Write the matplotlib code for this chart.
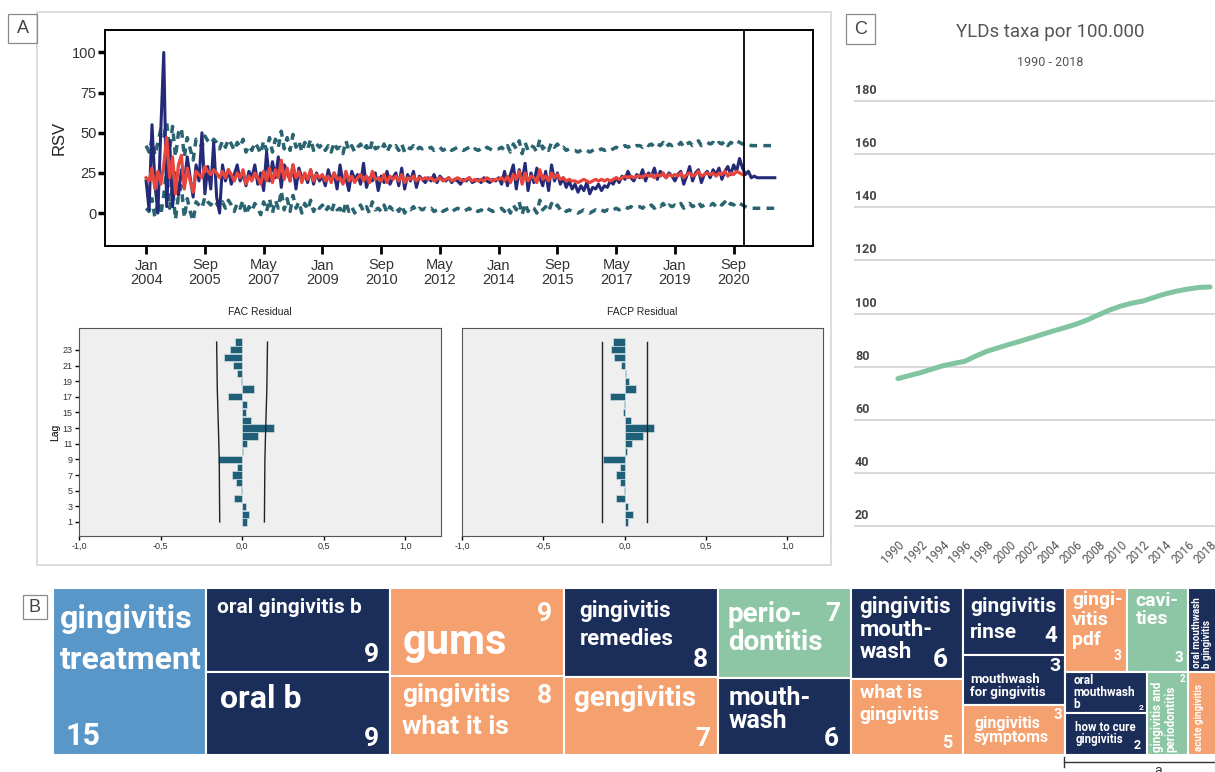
import numpy as np
import matplotlib
matplotlib.use('Agg')
import matplotlib.pyplot as plt
from matplotlib.patches import Rectangle
from matplotlib.transforms import blended_transform_factory

W, H = 1215, 772

# ---------------- panel A : RSV monthly series, Jan 2004 - Dec 2020 ----------------
rsv_observed = [
    20, 2, 55, 18, 0, 52, 100, 4, 45, 4, 25, 11,
    27, 19, 35, 22, 10, 30, 20, 50, 12, 29, 15, 44,
    10, 0, 30, 20, 27, 18, 24, 30, 20, 25, 17, 26,
    22, 30, 18, 25, 14, 38, 20, 32, 22, 35, 16, 30,
    26, 20, 30, 15, 28, 22, 24, 19, 27, 18, 25, 20,
    23, 17, 27, 20, 25, 15, 30, 19, 22, 14, 26, 21,
    24, 18, 31, 16, 22, 20, 25, 14, 23, 19, 26, 18,
    22, 25, 17, 28, 15, 24, 20, 26, 16, 23, 21, 19,
    22, 20, 24, 19, 23, 21, 20, 22, 19, 21, 20, 18,
    21, 20, 22, 19, 20, 21, 19, 22, 20, 19, 21, 20,
    22, 18, 26, 17, 24, 30, 15, 27, 20, 31, 14, 25,
    19, 28, 22, 17, 26, 14, 30, 20, 25, 18, 22, 16,
    20, 15, 18, 13, 17, 14, 19, 12, 16, 15, 18, 14,
    17, 16, 20, 18, 22, 19, 23, 21, 26, 22, 20, 24,
    22, 27, 20, 25, 23, 28, 21, 26, 24, 22, 25, 23,
    20, 24, 26, 18, 23, 29, 20, 25, 27, 19, 24, 26,
    22, 27, 24, 28, 21, 26, 29, 24, 30, 26, 34, 28,
]
rsv_fitted = [
    22, 20, 28, 15, 26, 18, 30, 47, 22, 35, 12, 30,
    36, 15, 28, 20, 13, 26, 24, 22, 29, 26, 24, 27,
    25, 22, 26, 22, 27, 24, 20, 25, 22, 27, 18, 23,
    20, 25, 22, 18, 26, 20, 28, 19, 27, 22, 33, 21,
    28, 20, 30, 22, 26, 19, 25, 21, 27, 20, 24, 22,
    24, 20, 23, 19, 25, 21, 22, 18, 26, 20, 23, 19,
    22, 24, 20, 23, 19, 26, 21, 22, 20, 24, 19, 23,
    21, 23, 20, 24, 19, 22, 21, 23, 20, 22, 21, 22,
    21, 22, 20, 21, 22, 20, 21, 22, 20, 21, 22, 21,
    20, 21, 22, 20, 21, 20, 21, 20, 22, 21, 20, 21,
    21, 22, 20, 23, 19, 24, 21, 26, 18, 25, 20, 23,
    22, 19, 27, 21, 23, 20, 25, 22, 24, 21, 22, 20,
    21, 20, 20, 19, 20, 21, 20, 19, 20, 21, 20, 21,
    20, 21, 20, 21, 22, 21, 22, 23, 22, 23, 22, 23,
    23, 22, 24, 23, 24, 22, 24, 23, 25, 22, 24, 23,
    24, 23, 25, 22, 24, 25, 23, 24, 26, 23, 24, 25,
    24, 25, 23, 25, 24, 26, 23, 25, 24, 26, 25, 24,
]
rsv_upper = [
    42, 38, 46, 36, 44, 52, 48, 56, 40, 54, 35, 50,
    53, 35, 47, 40, 33, 46, 44, 41, 48, 45, 43, 46,
    44, 40, 45, 41, 46, 43, 39, 44, 41, 46, 38, 42,
    39, 44, 41, 37, 45, 39, 47, 38, 46, 41, 51, 40,
    47, 39, 49, 41, 45, 38, 44, 40, 46, 39, 43, 41,
    43, 39, 42, 38, 44, 40, 41, 37, 45, 39, 42, 38,
    41, 43, 39, 42, 38, 45, 40, 41, 39, 43, 38, 42,
    40, 42, 39, 43, 38, 41, 40, 42, 39, 41, 40, 41,
    40, 41, 39, 40, 41, 39, 40, 41, 39, 40, 41, 40,
    39, 40, 41, 39, 40, 39, 40, 39, 41, 40, 39, 40,
    40, 41, 39, 42, 38, 43, 40, 45, 37, 44, 39, 42,
    41, 38, 46, 40, 42, 39, 44, 41, 43, 40, 41, 39,
    40, 39, 39, 38, 39, 40, 39, 38, 39, 40, 39, 40,
    39, 40, 39, 40, 41, 40, 41, 42, 41, 42, 41, 42,
    42, 41, 43, 42, 43, 41, 43, 42, 44, 41, 43, 42,
    43, 42, 44, 41, 43, 44, 42, 43, 45, 42, 43, 44,
    43, 44, 42, 44, 43, 45, 42, 44, 43, 45, 44, 43,
]
rsv_lower = [
    3, 1, 9, -3, 7, -1, 11, 28, 3, 16, -4, 11,
    17, -3, 9, 1, -5, 7, 5, 3, 10, 7, 5, 8,
    6, 3, 7, 3, 8, 5, 1, 6, 3, 8, -1, 4,
    1, 6, 3, -1, 7, 1, 9, 0, 8, 3, 14, 2,
    9, 1, 11, 3, 7, 0, 6, 2, 8, 1, 5, 3,
    5, 1, 4, 0, 6, 2, 3, -1, 7, 1, 4, 0,
    3, 5, 1, 4, 0, 7, 2, 3, 1, 5, 0, 4,
    2, 4, 1, 5, 0, 3, 2, 4, 1, 3, 2, 3,
    2, 3, 1, 2, 3, 1, 2, 3, 1, 2, 3, 2,
    1, 2, 3, 1, 2, 1, 2, 1, 3, 2, 1, 2,
    2, 3, 1, 4, 0, 5, 2, 7, -1, 6, 1, 4,
    3, 0, 8, 2, 4, 1, 6, 3, 5, 2, 3, 1,
    2, 1, 1, 0, 1, 2, 1, 0, 1, 2, 1, 2,
    1, 2, 1, 2, 3, 2, 3, 4, 3, 4, 3, 4,
    4, 3, 5, 4, 5, 3, 5, 4, 6, 3, 5, 4,
    5, 4, 6, 3, 5, 6, 4, 5, 7, 4, 5, 6,
    5, 6, 4, 6, 5, 7, 4, 6, 5, 7, 6, 5,
]
# forecast Jan 2021 - Nov 2021
rsv_forecast = [24, 26, 22, 23, 22, 22, 22, 22, 22, 22, 22]
forecast_upper = [44, 43, 42, 42, 42, 42, 42, 42, 42, 42, 42]
forecast_lower = [4, 3, 3, 3, 3, 3, 3, 3, 3, 3, 3]
date_labels = ['Jan\n2004', 'Sep\n2005', 'May\n2007', 'Jan\n2009', 'Sep\n2010', 'May\n2012',
               'Jan\n2014', 'Sep\n2015', 'May\n2017', 'Jan\n2019', 'Sep\n2020']

# residual autocorrelations, lags 1..24
fac_residual = [0.03, 0.045, 0.025, -0.047, -0.005, -0.04, -0.06, -0.03, -0.145, 0.005, 0.03, 0.1,
                0.195, 0.055, 0.025, 0.03, -0.088, 0.075, -0.005, -0.028, -0.053, -0.113, -0.075, -0.045]
facp_residual = [0.023, 0.05, 0.023, -0.05, -0.005, -0.03, -0.055, -0.03, -0.135, 0.015, 0.045, 0.11,
                 0.18, 0.04, -0.012, -0.005, -0.088, 0.068, 0.025, 0.01, -0.02, -0.065, -0.085, -0.072]
fac_limit_lags = [1, 9, 13, 18, 24]
fac_limit = [0.137, 0.14, 0.145, 0.152, 0.156]
facp_limit = 0.138

# ---------------- panel C : YLDs rate ----------------
yld_years = list(range(1990, 2019))
yld_rate = [75.5, 76.6, 77.7, 79.0, 80.3, 81.2, 82.0, 84.0, 85.8, 87.1, 88.4, 89.6, 90.9, 92.2,
            93.5, 94.7, 96.0, 97.6, 99.5, 101.3, 102.8, 103.9, 104.7, 106.1, 107.4, 108.4,
            109.2, 109.8, 110.0]
yld_ticks = [20, 40, 60, 80, 100, 120, 140, 160, 180]

# ---------------- panel B : treemap of search terms ----------------
tm_labels = ['gingivitis\ntreatment', 'oral gingivitis b', 'oral b', 'gums', 'gingivitis\nwhat it is',
             'gingivitis\nremedies', 'gengivitis', 'perio-\ndontitis', 'mouth-\nwash',
             'gingivitis\nmouth-\nwash', 'what is\ngingivitis', 'gingivitis\nrinse',
             'mouthwash\nfor gingivitis', 'gingivitis\nsymptoms', 'gingi-\nvitis\npdf', 'cavi-\nties',
             'oral\nmouthwash\nb', 'how to cure\ngingivitis', 'gingivitis and\nperiodontitis',
             'oral mouthwash\nb gingivitis', 'acute gingivitis']
tm_values = [15, 9, 9, 9, 8, 8, 7, 7, 6, 6, 5, 4, 3, 3, 3, 3, 2, 2, 2, 2, 2]
tm_numbers = ['15', '9', '9', '9', '8', '8', '7', '7', '6', '6', '5', '4', '3', '3', '3', '3',
              '2', '2', '2', '', '']
tm_kind = ['blue', 'navy', 'navy', 'salmon', 'salmon', 'navy', 'salmon', 'green', 'navy', 'navy',
           'salmon', 'navy', 'navy', 'salmon', 'salmon', 'green', 'navy', 'navy', 'green', 'navy', 'salmon']
tm_tree = [0, [1, 2], [3, 4], [5, 6], [7, 8], [9, 10], [11, 12, 13], [[14, 15], [[16, 17], 18]], [19, 20]]

kind_colors = {'blue': '#5997c8', 'navy': '#1b2d59', 'salmon': '#f5a16f', 'green': '#8dc6a5'}

# text style per cell: label size, label offset (dx, dy), line spacing,
# number size, number corner, number offset, rotation
tm_style = [
    (23, 7, 16, 1.45, 22, 'bl', 12, 4, 0),
    (15, 11, 10, 1.2, 19, 'br', 11, 5, 0),
    (23, 14, 13, 1.2, 19, 'br', 11, 4, 0),
    (30, 12, 34, 1.2, 19, 'tr', 12, 14, 0),
    (19, 12, 7, 1.35, 19, 'tr', 12, 8, 0),
    (16, 15, 12, 1.4, 19, 'br', 10, 5, 0),
    (20, 10, 8, 1.2, 19, 'br', 7, 4, 0),
    (20, 10, 13, 1.15, 19, 'tr', 10, 14, 0),
    (18, 11, 8, 1.05, 19, 'br', 12, 4, 0),
    (16, 9, 8, 1.15, 19, 'br', 15, 7, 0),
    (14, 9, 5, 1.25, 13, 'br', 11, 3, 0),
    (15, 7, 9, 1.4, 16, 'br', 8, 8, 0),
    (9.5, 7, 18, 1.1, 14, 'tr', 5, 2, 0),
    (11.5, 11, 11, 1.0, 11, 'tr', 3, 3, 0),
    (14, 7, 3, 1.15, 10, 'br', 5, 9, 0),
    (14, 9, 4, 1.05, 11, 'br', 5, 7, 0),
    (8.5, 8, 2, 1.15, 6, 'br', 4, 2, 0),
    (8.3, 10, 8, 1.2, 9, 'br', 6, 3, 0),
    (8.4, 4, 3, 1.05, 7, 'tr', 3, 3, 90),
    (7, 4, 4, 1.05, 7, 'tr', 3, 3, 90),
    (7, 6, 4, 1.0, 7, 'tr', 3, 3, 90),
]


def px_axes(fig, x0, y0, x1, y1):
    return fig.add_axes([x0 / W, 1 - y1 / H, (x1 - x0) / W, (y1 - y0) / H])


def panel_label(fig, x0, y0, x1, y1, letter):
    fig.add_artist(Rectangle((x0 / W, 1 - y1 / H), (x1 - x0) / W, (y1 - y0) / H,
                             transform=fig.transFigure, fill=False, ec='#8a8a8a', lw=0.9))
    fig.text((x0 + x1) / 2 / W, 1 - (y0 + y1) / 2 / H, letter, ha='center', va='center',
             fontsize=13, color='#444444', family='Liberation Sans')


def node_value(node):
    if isinstance(node, int):
        return tm_values[node]
    return sum(node_value(c) for c in node)


def layout(node, x, y, w, h, depth, out):
    if isinstance(node, int):
        out[node] = (x, y, w, h)
        return
    total = float(node_value(node))
    pos = 0.0
    for child in node:
        frac = node_value(child) / total
        if depth % 2 == 0:
            layout(child, x + pos * w, y, w * frac, h, depth + 1, out)
        else:
            layout(child, x, y + pos * h, w, h * frac, depth + 1, out)
        pos += frac


fig = plt.figure(figsize=(W / 100, H / 100), dpi=100)
fig.patch.set_facecolor('white')

# panel A frame
fig.add_artist(Rectangle((37 / W, 1 - 565 / H), (831 - 37) / W, (565 - 12) / H,
                         transform=fig.transFigure, fill=False, ec='#dcdcdc', lw=1.4))
panel_label(fig, 8, 14, 37, 43, 'A')
panel_label(fig, 846, 14, 875, 44, 'C')
panel_label(fig, 23, 595, 47, 619, 'B')

# ---- A: time series
ax = px_axes(fig, 105, 30, 813, 246)
n_obs = len(rsv_observed)
months_all = np.arange(n_obs + len(rsv_forecast))
ax.plot(months_all, rsv_upper + forecast_upper, color='#2a6470', lw=2.5, ls=(0, (2.2, 1.8)))
ax.plot(months_all, rsv_lower + forecast_lower, color='#2a6470', lw=2.5, ls=(0, (2.2, 1.8)))
ax.plot(months_all, rsv_observed + rsv_forecast, color='#232a78', lw=2.2)
ax.plot(np.arange(len(rsv_fitted)), rsv_fitted, color='#e8453c', lw=2.3)
ax.axvline(n_obs - 0.5, color='black', lw=1.3)
ax.set_xlim(-14, 227)
ax.set_ylim(-20.5, 114)
ax.set_yticks([0, 25, 50, 75, 100])
ax.set_xticks(np.arange(len(date_labels)) * 20)
ax.set_xticklabels(date_labels, linespacing=1.0)
ax.set_ylabel('RSV', fontsize=12, family='Liberation Sans', color='#222222', labelpad=4)
ax.tick_params(axis='y', length=5, width=2.5, labelsize=10.5, pad=1, labelcolor='#333333')
ax.tick_params(axis='x', length=6, width=2, labelsize=10.5, pad=3, labelcolor='#333333')
for lab in ax.get_xticklabels() + ax.get_yticklabels():
    lab.set_family('Liberation Sans')
for s in ax.spines.values():
    s.set_linewidth(1.4)

# ---- A: residual correlograms
lags = np.arange(1, len(fac_residual) + 1)
for i, (vals, title) in enumerate([(fac_residual, 'FAC Residual'), (facp_residual, 'FACP Residual')]):
    x0 = 79 if i == 0 else 462
    x1 = 441 if i == 0 else 823
    axr = px_axes(fig, x0, 328, x1, 536)
    axr.set_facecolor('#efefef')
    axr.barh(lags, vals, height=0.92, color='#1f5f78', edgecolor='#dfe8ec', lw=0.4, zorder=3)
    if i == 0:
        axr.plot(-np.array(fac_limit), fac_limit_lags, color='#222222', lw=1.0, zorder=4)
        axr.plot(fac_limit, fac_limit_lags, color='#222222', lw=1.0, zorder=4)
        axr.set_yticks(lags[::2])
        axr.set_ylabel('Lag', fontsize=7.5, family='Liberation Sans', labelpad=2)
    else:
        axr.plot([-facp_limit, -facp_limit], [1, 24], color='#222222', lw=1.0, zorder=4)
        axr.plot([facp_limit, facp_limit], [1, 24], color='#222222', lw=1.0, zorder=4)
        axr.set_yticks([])
    axr.set_xlim(-1.0, 1.22)
    axr.set_ylim(-0.8, 25.8)
    axr.set_xticks([-1, -0.5, 0, 0.5, 1])
    axr.set_xticklabels(['-1,0', '-0,5', '0,0', '0,5', '1,0'])
    axr.tick_params(length=3, width=1, labelsize=6.5, pad=1.5, labelcolor='#333333')
    for lab in axr.get_xticklabels() + axr.get_yticklabels():
        lab.set_family('Liberation Sans')
    for s in axr.spines.values():
        s.set_linewidth(0.8)
        s.set_color('#555555')
    fig.text((x0 + x1) / 2 / W, 1 - 312 / H, title, ha='center', va='center', fontsize=7.5,
             family='Liberation Sans', color='#222222')

# ---- C: YLDs line
axc = px_axes(fig, 855, 101, 1215, 526)
axc.set_xlim(1986.15, 2018.45)
axc.set_ylim(20, 180)
trans = blended_transform_factory(axc.transAxes, axc.transData)
for v in yld_ticks:
    axc.axhline(v, color='#d9d9d9', lw=1.5, zorder=1, clip_on=False)
    axc.text(0.0, v + 1.5, str(v), transform=trans, ha='left', va='bottom', fontsize=9,
             fontweight='bold', color='#444444', family='Roboto')
axc.plot(yld_years, yld_rate, color='#80c4a0', lw=3.6, solid_capstyle='round', zorder=3)
for s in axc.spines.values():
    s.set_visible(False)
axc.set_yticks([])
axc.set_xticks(yld_years[::2])
axc.set_xticklabels([str(y) for y in yld_years[::2]])
axc.tick_params(axis='x', length=0, pad=9, labelsize=8.5, labelcolor='#555555')
for lab in axc.get_xticklabels():
    lab.set_rotation(45)
    lab.set_ha('right')
    lab.set_va('top')
    lab.set_rotation_mode('anchor')
    lab.set_family('Roboto')
fig.text(1050 / W, 1 - 32 / H, 'YLDs taxa por 100.000', ha='center', va='center', fontsize=13.5,
         color='#555555', family='Roboto')
fig.text(1050 / W, 1 - 63 / H, '1990 - 2018', ha='center', va='center', fontsize=9,
         color='#555555', family='Roboto')

# ---- B: treemap
rects = {}
total = node_value(tm_tree)
layout(tm_tree, 0, 0, total, 1.0, 0, rects)
scale = (1188 - 53) / 111.0
axt = px_axes(fig, 53, 588, 53 + total * scale, 755)
axt.set_xlim(0, total)
axt.set_ylim(1, 0)
axt.axis('off')
for i in range(len(tm_labels)):
    x, y, w, h = rects[i]
    axt.add_patch(Rectangle((x, y), w, h, fc=kind_colors[tm_kind[i]], ec='white', lw=1.5))
    lfs, ldx, ldy, lsp, nfs, corner, ndx, ndy, rot = tm_style[i]
    txt = dict(color='white', fontweight='bold', family='Roboto', textcoords='offset pixels',
               annotation_clip=False)
    if rot == 0:
        # one text per line so that short lines do not cover the numbers
        step = lsp * 0.885 * lfs * 100 / 72.0
        for k, line in enumerate(tm_labels[i].split('\n')):
            axt.annotate(line, xy=(x, y), xytext=(ldx, -ldy - k * step), ha='left', va='top',
                         fontsize=lfs, **txt)
    else:
        axt.annotate(tm_labels[i], xy=(x, y + h), xytext=(ldx, ldy), ha='left', va='top',
                     rotation=90, rotation_mode='anchor', fontsize=lfs, linespacing=lsp, **txt)
    if tm_numbers[i]:
        if corner == 'br':
            axt.annotate(tm_numbers[i], xy=(x + w, y + h), xytext=(-ndx, ndy), ha='right',
                         va='bottom', fontsize=nfs, **txt)
        elif corner == 'tr':
            axt.annotate(tm_numbers[i], xy=(x + w, y), xytext=(-ndx, -ndy), ha='right',
                         va='top', fontsize=nfs, **txt)
        else:
            axt.annotate(tm_numbers[i], xy=(x, y + h), xytext=(ndx, ndy), ha='left',
                         va='bottom', fontsize=nfs, **txt)

# bracket under the small cells
fig.add_artist(plt.Line2D([1064 / W, 1.0], [1 - 762 / H, 1 - 762 / H], transform=fig.transFigure,
                          color='#333333', lw=1.0))
fig.add_artist(plt.Line2D([1064 / W, 1064 / W], [1 - 757 / H, 1 - 767 / H], transform=fig.transFigure,
                          color='#333333', lw=1.0))
fig.text(1158 / W, 1 - 764 / H, 'a', ha='center', va='top', fontsize=10, color='#333333',
         family='Liberation Sans')

fig.savefig('out.png', dpi=100)
